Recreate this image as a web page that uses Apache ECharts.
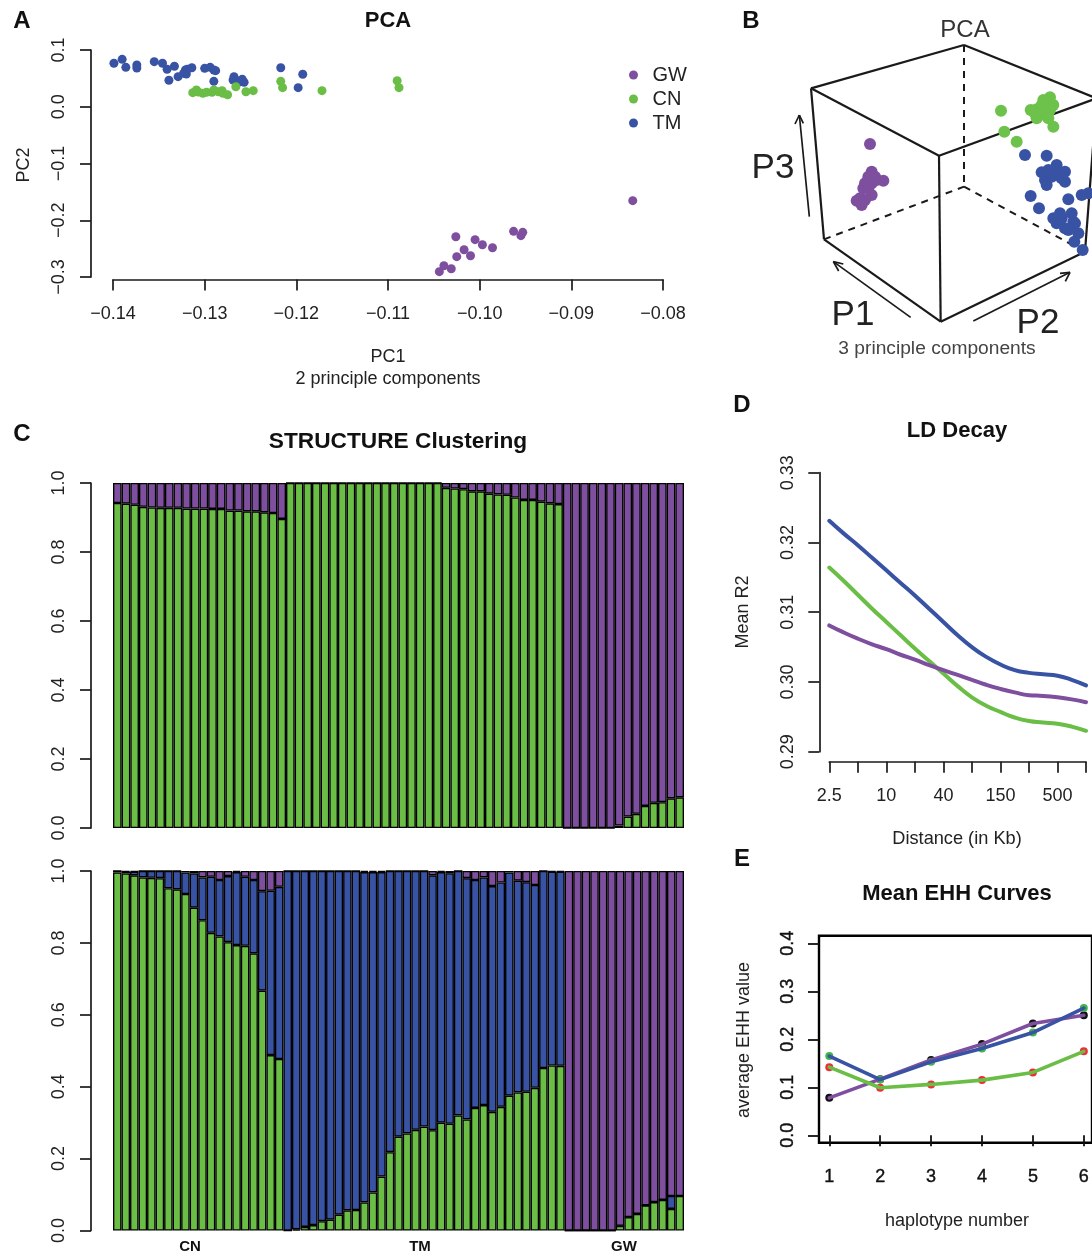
<!DOCTYPE html>
<html><head><meta charset="utf-8">
<style>html,body{margin:0;padding:0;background:#fff;overflow:hidden}#c{width:1092px;height:1253px}</style>
<script src="https://cdn.jsdelivr.net/npm/echarts@6/dist/echarts.min.js"></script>
</head><body><div id="c"></div>
<script>
const GREEN='#6abd45',BLUE='#3953a4',PURPLE='#7f4f9f';

// Panel A : PC1, PC2
const pcaTM=[[-0.1399,0.0766],[-0.1390,0.0836],[-0.1386,0.0695],[-0.1374,0.0736],[-0.1374,0.0683],[-0.1355,0.0794],[-0.1346,0.0766],[-0.1341,0.0660],[-0.1333,0.0713],[-0.1339,0.0466],[-0.1329,0.0530],[-0.1323,0.0589],[-0.1321,0.0648],[-0.1319,0.0660],[-0.1314,0.0688],[-0.1320,0.0577],[-0.1300,0.0677],[-0.1294,0.0695],[-0.1290,0.0648],[-0.1288,0.0636],[-0.1290,0.0448],[-0.1268,0.0530],[-0.1269,0.0471],[-0.1265,0.0459],[-0.1259,0.0483],[-0.1257,0.0431],[-0.1261,0.0442],[-0.1217,0.0688],[-0.1193,0.0572],[-0.1198,0.0336]];
const pcaCN=[[-0.1313,0.0248],[-0.1309,0.0295],[-0.1307,0.0260],[-0.1302,0.0237],[-0.1298,0.0254],[-0.1292,0.0254],[-0.1290,0.0295],[-0.1285,0.0265],[-0.1281,0.0283],[-0.1280,0.0237],[-0.1275,0.0212],[-0.1266,0.0353],[-0.1255,0.0265],[-0.1247,0.0283],[-0.1217,0.0448],[-0.1215,0.0336],[-0.1172,0.0283],[-0.1090,0.0459],[-0.1088,0.0336]];
const pcaGW=[[-0.0833,-0.1655],[-0.0963,-0.2195],[-0.0953,-0.2213],[-0.0955,-0.2272],[-0.1026,-0.2290],[-0.1005,-0.2342],[-0.0997,-0.2431],[-0.0986,-0.2484],[-0.1017,-0.2519],[-0.1010,-0.2625],[-0.1025,-0.2642],[-0.1039,-0.2801],[-0.1031,-0.2854],[-0.1044,-0.2906]];
const legendNames=['GW','CN','TM'];

// Panel B : points and cube as projected on the page plane
const cubeSolid=[[[672,105],[213,235]],[[672,105],[1070,265]],[[213,235],[597,437]],[[597,437],[1070,265]],[[213,235],[252,688]],[[597,437],[602,935]],[[252,688],[602,935]],[[602,935],[1035,725]],[[1070,265],[1035,725]]];
const cubeDashed=[[[672,105],[672,530]],[[252,688],[672,530]],[[672,530],[1035,725]]];
const cubeArrows=[[[208,620],[178,315]],[[178,315],[165,342]],[[178,315],[190,340]],[[512,922],[280,755]],[[280,755],[310,762]],[[280,755],[296,783]],[[700,933],[990,787]],[[990,787],[960,790]],[[990,787],[976,814]]];
const pc3GW=[[390,402],[395,485],[385,500],[405,500],[430,512],[375,520],[395,520],[370,535],[385,535],[395,555],[360,565],[350,572],[365,585],[375,570],[385,510],[410,510]];
const pc3CN=[[783,302],[793,365],[830,395],[872,300],[890,298],[905,300],[930,262],[920,275],[905,285],[940,285],[930,300],[915,315],[890,325],[940,350],[925,325],[885,310],[910,270]];
const pc3TM=[[855,435],[920,437],[950,465],[905,487],[925,480],[945,490],[975,485],[915,510],[965,505],[975,515],[920,525],[935,500],[872,558],[897,595],[985,568],[1025,555],[1045,550],[1028,720],[940,625],[960,610],[995,610],[950,640],[975,655],[1005,640],[1015,670],[1003,695],[965,625],[1000,635],[985,660]];

// Panel C top : K=2
const k2Green=[.942,.940,.937,.931,.929,.928,.928,.928,.926,.926,.926,.925,.925,.920,.920,.918,.918,.915,.913,.896,
 1,1,1,1,1,1,1,1,1,1,1,1,1,1,1,1,1,1,.986,.984,.982,.976,.976,.969,.967,.966,.958,.951,.951,.946,.941,.939,
 0,0,0,0,0,0,.007,.033,.041,.064,.073,.075,.086,.089];
const k2Purple=[.058,.060,.063,.069,.071,.072,.072,.072,.074,.074,.074,.075,.075,.080,.080,.082,.082,.085,.087,.104,
 0,0,0,0,0,0,0,0,0,0,0,0,0,0,0,0,0,0,.014,.016,.018,.024,.024,.031,.033,.034,.042,.049,.049,.054,.059,.061,
 1,1,1,1,1,1,.993,.967,.959,.936,.927,.925,.914,.911];

// Panel C bottom : K=3
const k3Green=[.996,.993,.988,.982,.981,.980,.952,.949,.936,.898,.863,.828,.818,.802,.794,.792,.771,.667,.488,.477,
 0,.003,.010,.015,.026,.030,.044,.056,.057,.078,.106,.150,.218,.261,.270,.280,.289,.279,.300,.297,.320,.309,.341,.349,.330,.344,.375,.384,.386,.397,.452,.459,.458,
 0,0,0,0,0,0,.013,.037,.046,.070,.079,.085,.060,.096];
const k3Blue=[.004,.005,.010,.018,.019,.020,.048,.051,.060,.095,.119,.156,.157,.184,.203,.192,.204,.277,.457,.479,
 1,.997,.990,.985,.974,.970,.956,.944,.943,.919,.891,.847,.782,.739,.730,.720,.711,.709,.697,.697,.680,.671,.634,.633,.628,.624,.621,.589,.583,.564,.548,.539,.540,
 0,0,0,0,0,0,0,0,0,0,0,0,.036,0];
const k3Purple=[0,.002,.002,0,0,0,0,0,.004,.007,.018,.016,.025,.014,.003,.016,.025,.056,.055,.044,
 0,0,0,0,0,0,0,0,0,.003,.003,.003,0,0,0,0,0,.012,.003,.006,0,.020,.025,.018,.042,.032,.004,.027,.031,.039,0,.002,.002,
 1,1,1,1,1,1,.987,.963,.954,.930,.921,.915,.904,.904];

// Panel D
const ldX=[1,1.5,2,2.5,3,3.5,4,4.5,5,5.5,6,6.5,7,7.5,8,8.5,9,9.5,10];
const ldTM=[.3231,.3213,.3196,.3178,.3160,.3142,.3124,.3105,.3086,.3067,.3050,.3036,.3025,.3017,.3013,.3011,.3009,.3003,.2995];
const ldCN=[.3164,.3145,.3125,.3105,.3086,.3067,.3048,.3030,.3012,.2994,.2978,.2966,.2957,.2949,.2944,.2942,.2940,.2936,.2930];
const ldGW=[.3081,.3071,.3062,.3054,.3047,.3039,.3032,.3024,.3017,.3010,.3003,.2996,.2990,.2985,.2981,.2980,.2978,.2975,.2971];
const ldTicks=['2.5','','10','','40','','150','','500',''];

// Panel E
const hap=[1,2,3,4,5,6];
const ehhGW=[.078,.117,.157,.190,.233,.250];
const ehhTM=[.165,.116,.153,.181,.214,.265];
const ehhCN=[.142,.099,.106,.115,.131,.175];

const F='"Liberation Sans",Arial,sans-serif';
const zip=(xs,ys)=>xs.map((x,i)=>[x,ys[i]]);
const idx=(a)=>a.map((_,i)=>i);
const minus=(s)=>s.replace('-','\u2212');

function valAxis(o){
 return Object.assign({type:'value',scale:false,splitLine:{show:false},
  axisLine:{show:true,onZero:false,lineStyle:{color:'#1a1a1a',width:1.7}},
  axisTick:{show:true,length:11,lineStyle:{color:'#1a1a1a',width:1.7}},
  axisLabel:{color:'#222',fontFamily:F,fontSize:18,hideOverlap:false,showMinLabel:true,showMaxLabel:true}},o);
}
function yRot(o,margin,size,fmt){
 const a=valAxis(o);
 a.axisLabel=Object.assign(a.axisLabel,{rotate:90,align:'center',verticalAlign:'bottom',margin:margin,fontSize:size||18,formatter:fmt});
 return a;
}
const G=[
 {left:113,top:50,width:550,height:227},          //0 A
 {left:740,top:10,width:352,height:350},          //1 B
 {left:113,top:483,width:571,height:345},         //2 C top
 {left:113,top:871,width:571,height:359.5},       //3 C bottom
 {left:829.3,top:472.7,width:256.7,height:279},   //4 D
 {left:819,top:935.7,width:280,height:207,show:true,borderColor:'#000',borderWidth:2.4,backgroundColor:'transparent'}, //5 E box
 {left:829.3,top:943.3,width:256,height:192}      //6 E
];
const fmt1=v=>minus(v.toFixed(1));
const X=[
 valAxis({gridIndex:0,min:-0.14,max:-0.08,interval:0.01,offset:2.5,axisLabel:{color:'#222',fontFamily:F,fontSize:18,margin:26,hideOverlap:false,formatter:v=>minus(v.toFixed(2))}}),
 {type:'value',gridIndex:1,min:0,max:1056,show:false},
 {type:'category',gridIndex:2,data:idx(k2Green),show:false},
 {type:'category',gridIndex:3,data:idx(k3Green),show:false},
 valAxis({gridIndex:4,min:1,max:10,interval:1,offset:10,axisLabel:{color:'#222',fontFamily:F,fontSize:18,margin:25,hideOverlap:false,formatter:v=>ldTicks[Math.round(v)-1]}}),
 {type:'value',gridIndex:5,min:0,max:1,show:false},
 valAxis({gridIndex:6,min:1,max:6,interval:1,offset:7.4,axisLine:{show:false},axisTick:{length:11,lineStyle:{color:'#111',width:1.8}},axisLabel:{color:'#111',fontFamily:F,fontSize:18,margin:25,hideOverlap:false,textBorderColor:'#111',textBorderWidth:0.4}})
];
const Y=[
 yRot({gridIndex:0,min:-0.3,max:0.1,interval:0.1,offset:22},23,18,fmt1),
 {type:'value',gridIndex:1,min:0,max:1050,inverse:true,show:false},
 yRot({gridIndex:2,min:0,max:1,interval:0.2,offset:22},23,18,fmt1),
 yRot({gridIndex:3,min:0,max:1,interval:0.2,offset:22},23,18,fmt1),
 yRot({gridIndex:4,min:0.29,max:0.33,interval:0.01,offset:10},22,18,v=>v.toFixed(2)),
 {type:'value',gridIndex:5,min:0,max:1,show:false},
 yRot({gridIndex:6,min:0,max:0.4,interval:0.1,offset:10.3},22,18,fmt1)
];
Y[6].axisLine={show:false};
Y[6].axisTick={length:11,lineStyle:{color:'#111',width:1.8}};
Y[6].axisLabel.color='#111';Y[6].axisLabel.textBorderColor='#111';Y[6].axisLabel.textBorderWidth=0.4;

const S=[];
function scat(gi,name,data,color,size,z){
 S.push({type:'scatter',name:name,xAxisIndex:gi,yAxisIndex:gi,data:data,symbol:'circle',symbolSize:size,clip:gi==1,
  itemStyle:{color:color,opacity:1},z:z||2,silent:true});
}
scat(0,'TM',pcaTM,BLUE,9);scat(0,'CN',pcaCN,GREEN,9);scat(0,'GW',pcaGW,PURPLE,9);
function segs(data,width,type,color){
 S.push({type:'lines',coordinateSystem:'cartesian2d',xAxisIndex:1,yAxisIndex:1,polyline:false,clip:true,silent:true,
  data:data.map(c=>({coords:c})),lineStyle:{color:color||'#1a1a1a',width:width,type:type,opacity:1,curveness:0},effect:{show:false},z:1});
}
segs(cubeSolid,2.2,'solid');segs(cubeDashed,2,[7,6]);segs(cubeArrows,1.7,'solid');
scat(1,'pGW',pc3GW,PURPLE,12,3);scat(1,'pCN',pc3CN,'#6cc24a',12,3);scat(1,'pTM',pc3TM,BLUE,12,3);

function bar(gi,data,color,stack){
 S.push({type:'bar',xAxisIndex:gi,yAxisIndex:gi,data:data,stack:stack,barWidth:'100%',barGap:'0%',barCategoryGap:'0%',silent:true,
  itemStyle:{color:color,borderColor:'#000',borderWidth:1.35},animation:false});
}
bar(2,k2Green,GREEN,'k2');bar(2,k2Purple,PURPLE,'k2');
bar(3,k3Green,GREEN,'k3');bar(3,k3Blue,BLUE,'k3');bar(3,k3Purple,PURPLE,'k3');

function line(gi,data,color,w,smooth){
 S.push({type:'line',xAxisIndex:gi,yAxisIndex:gi,data:data,smooth:smooth?0.5:false,showSymbol:false,symbol:'none',clip:false,silent:true,
  lineStyle:{color:color,width:w,cap:'round'},z:4});
}
line(4,zip(ldX,ldCN),GREEN,4,true);line(4,zip(ldX,ldGW),PURPLE,4,true);line(4,zip(ldX,ldTM),BLUE,4,true);

scat(6,'dGW',zip(hap,ehhGW),'#111',8,3);scat(6,'dTM',zip(hap,ehhTM),'#3fb54a',8,3);scat(6,'dCN',zip(hap,ehhCN),'#ee2d36',8,3);
line(6,zip(hap,ehhGW),PURPLE,3.6,false);line(6,zip(hap,ehhCN),GREEN,3.6,false);line(6,zip(hap,ehhTM),BLUE,3.6,false);

function T(text,x,y,size,o){
 o=o||{};
 return {type:'text',x:x,y:y,rotation:o.rot?Math.PI/2:0,silent:true,z:20,
  style:{text:text,x:0,y:0,fill:o.color||'#222',font:(o.bold?'bold ':'')+size+'px '+F,align:'center',verticalAlign:'middle'}};
}
const B={bold:1,color:'#111'};
const texts=[
 T('A',22,21,24,B),T('B',751,21,24,B),T('C',22,434,24,B),T('D',742,405,24,B),T('E',742,859,24,B),
 T('PCA',388,21,22,B),T('PC1',388,357,18),T('2 principle components',388,379,18),T('PC2',24,165,18,{rot:1}),
 T('PCA',965,30,24,{color:'#333'}),T('P3',773,168,35,{color:'#222'}),T('P1',853,315,35,{color:'#222'}),T('P2',1038,323,35,{color:'#222'}),T('3 principle components',937,349,19.2,{color:'#444'}),
 T('STRUCTURE Clustering',398,442,22.7,B),T('CN',190,1247,15,B),T('TM',420,1247,15,B),T('GW',624,1247,15,B),
 T('LD Decay',957,431,22,B),T('Mean R2',743,612,18,{rot:1}),T('Distance (in Kb)',957,839,18.2),
 T('Mean EHH Curves',957,894,22,B),T('average EHH value',744,1040,18,{rot:1}),T('haplotype number',957,1221,18)
];
const chart=echarts.init(document.getElementById('c'),null,{renderer:'canvas',width:1092,height:1253});
chart.setOption({animation:false,backgroundColor:'#fff',grid:G,xAxis:X,yAxis:Y,series:S,graphic:texts,
 legend:{show:true,data:legendNames,orient:'vertical',left:624,top:60,itemWidth:20,itemHeight:9,itemGap:4,icon:'circle',selectedMode:false,
  textStyle:{fontFamily:F,fontSize:20,color:'#222',padding:[0,0,0,4]}},tooltip:{show:false}});
</script></body></html>
